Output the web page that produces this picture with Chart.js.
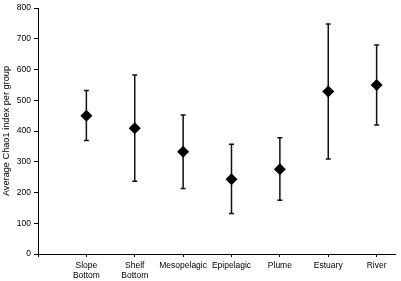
<!DOCTYPE html>
<html>
<head>
<meta charset="utf-8">
<script src="https://cdn.jsdelivr.net/npm/chart.js@4"></script>
<style>
  html, body { margin: 0; padding: 0; background: #fff; }
  #wrap { width: 401px; height: 281px; position: relative; }
</style>
</head>
<body>
<div id="wrap"><canvas id="myChart"></canvas></div>
<script>
// values
const categories = [['Slope', 'Bottom'], ['Shelf', 'Bottom'], 'Mesopelagic', 'Epipelagic', 'Plume', 'Estuary', 'River'];
const meanChao1 = [450, 409, 333, 243, 276, 529, 550];
const upperChao1 = [532, 582, 452, 357, 378, 748, 680];
const lowerChao1 = [369, 237, 213, 132, 175, 309, 420];
const yTicks = [0, 100, 200, 300, 400, 500, 600, 700, 800];

const FONT = 'Liberation Sans';

// draws the vertical error bars with caps from the arrays above
const errorBars = {
    id: 'errorBars',
    beforeDatasetsDraw(chart) {
        const ctx = chart.ctx;
        const xs = chart.scales.x;
        const ys = chart.scales.y;
        ctx.save();
        ctx.strokeStyle = '#111';
        ctx.lineWidth = 1.5;
        categories.forEach((c, i) => {
            const px = xs.getPixelForValue(i + 1);
            const top = ys.getPixelForValue(upperChao1[i]);
            const bot = ys.getPixelForValue(lowerChao1[i]);
            ctx.beginPath();
            ctx.moveTo(px, top);
            ctx.lineTo(px, bot);
            ctx.moveTo(px - 2.5, top);
            ctx.lineTo(px + 2.5, top);
            ctx.moveTo(px - 2.5, bot);
            ctx.lineTo(px + 2.5, bot);
            ctx.stroke();
        });
        ctx.restore();
    }
};

const ctx = document.getElementById('myChart').getContext('2d');
const myChart = new Chart(ctx, {
    type: 'scatter',
    data: {
        datasets: [{
            label: 'Chao1',
            data: meanChao1.map((v, i) => ({ x: i + 1, y: v })),
            pointStyle: 'rectRot',
            pointRadius: 6,
            backgroundColor: '#000',
            borderColor: '#000',
            borderWidth: 0
        }]
    },
    options: {
        responsive: true,
        maintainAspectRatio: false,
        animation: false,
        layout: { padding: { top: 5, right: 0, left: 0, bottom: 0 } },
        plugins: {
            legend: { display: false },
            tooltip: { enabled: false }
        },
        scales: {
            x: {
                type: 'linear',
                min: 0,
                max: 7.38,
                afterFit: (scale) => { scale.height = 27; },
                border: { color: '#000', width: 1 },
                grid: { drawOnChartArea: false, drawTicks: true, tickLength: 3, color: '#000' },
                ticks: {
                    stepSize: 1,
                    includeBounds: false,
                    autoSkip: false,
                    maxRotation: 0,
                    padding: 3,
                    color: '#000',
                    font: { family: FONT, size: 8.5, lineHeight: 1.25 },
                    callback: (v) => (Number.isInteger(v) && v >= 1 && v <= categories.length) ? categories[v - 1] : ''
                }
            },
            y: {
                min: 0,
                max: 800,
                afterFit: (scale) => { scale.width = 38; },
                afterBuildTicks: (scale) => { scale.ticks = yTicks.map(v => ({ value: v })); },
                border: { color: '#000', width: 1 },
                grid: { drawOnChartArea: false, drawTicks: true, tickLength: 4, color: '#000' },
                ticks: {
                    padding: 3,
                    color: '#000',
                    font: { family: FONT, size: 8.5 }
                },
                title: {
                    display: true,
                    text: 'Average Chao1 index per group',
                    color: '#000',
                    padding: { top: 1, bottom: 0 },
                    font: { family: FONT, size: 9.2 }
                }
            }
        }
    },
    plugins: [errorBars]
});
</script>
</body>
</html>
